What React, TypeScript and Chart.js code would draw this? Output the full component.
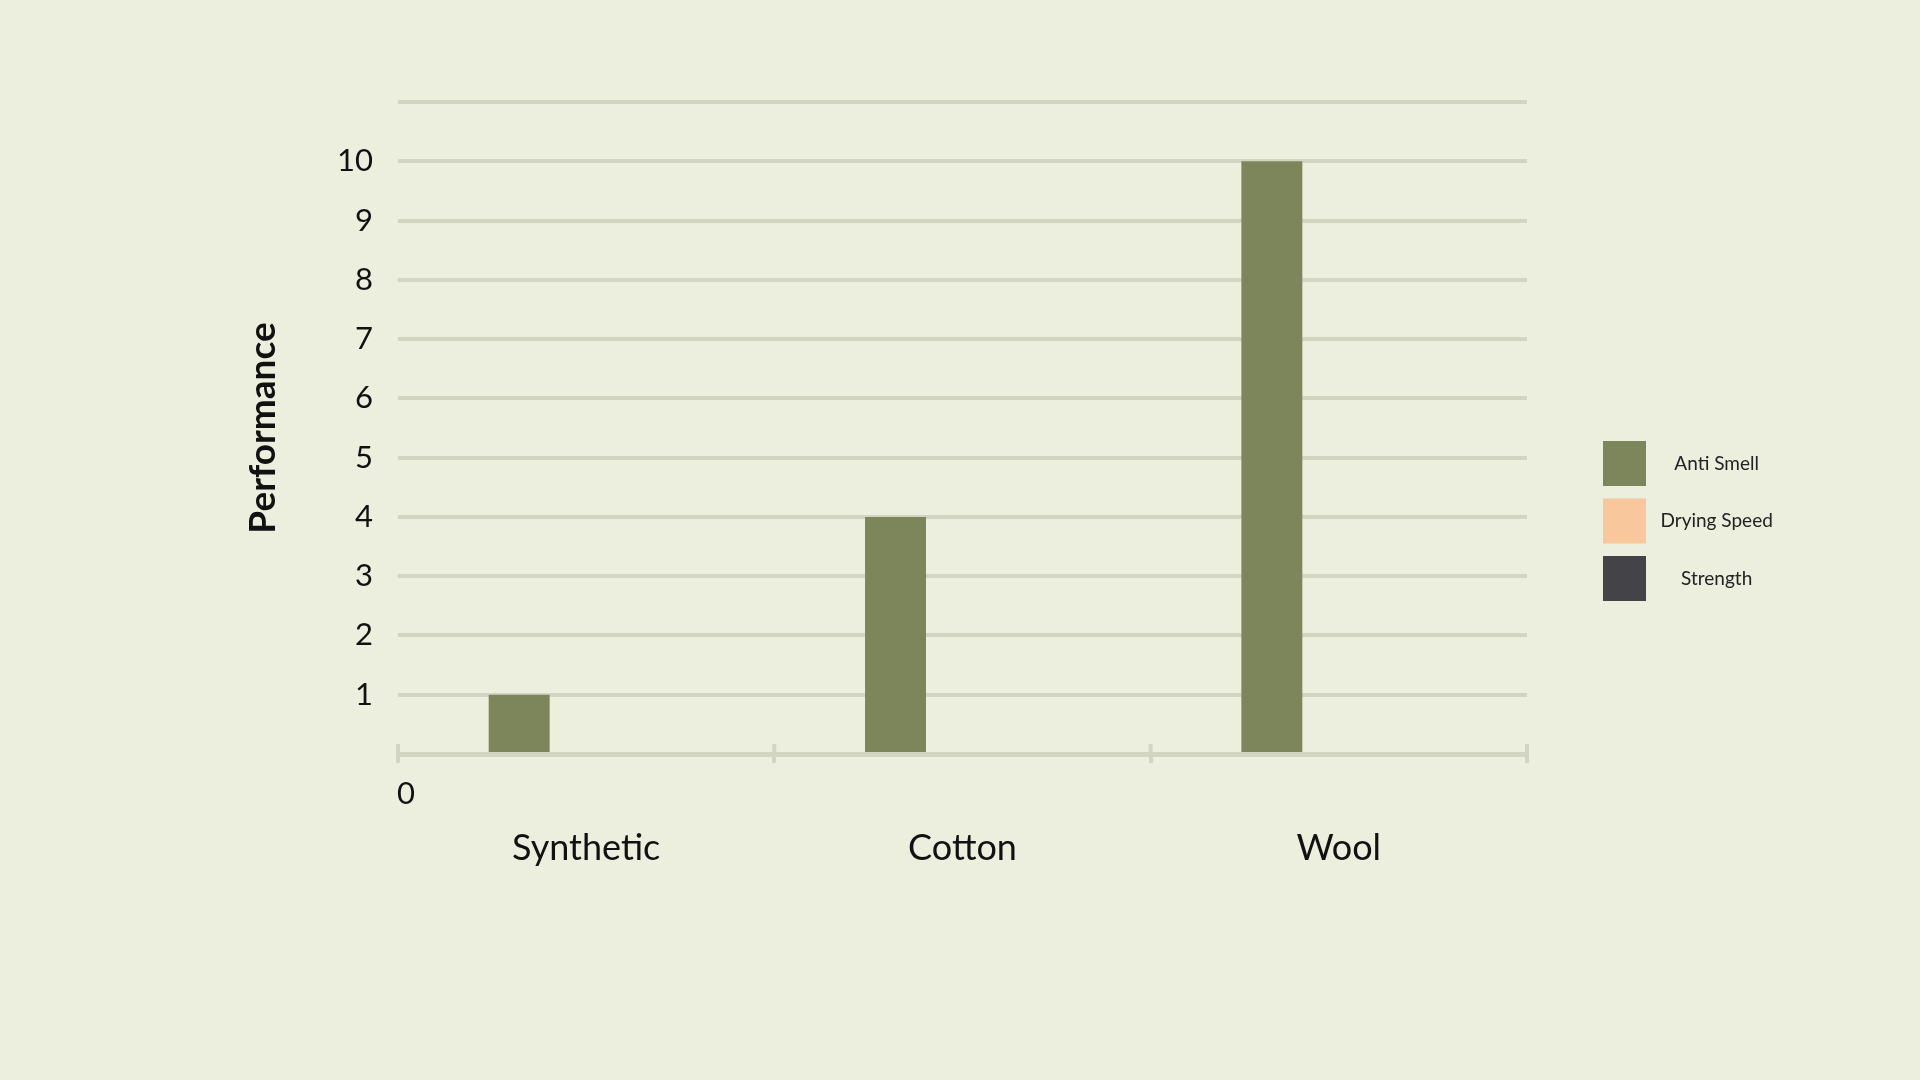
import React, { useEffect, useRef } from 'react';
import { Chart, registerables } from 'chart.js';

Chart.register(...registerables);

// ---- data ----
const categories = ['Synthetic', 'Cotton', 'Wool'];
const seriesNames = ['Anti Smell', 'Drying Speed', 'Strength'];
const antiSmell = [1, 4, 10];
const dryingSpeed = [0, 0, 0];
const strength = [0, 0, 0];
const yTickLabels = [1, 2, 3, 4, 5, 6, 7, 8, 9, 10];
const yMax = 11;
const yTitle = 'Performance';
const zeroLabel = '0';

// ---- styles ----
const BG = '#ECEFDE';
const GRID = '#D2D5C2';
const TEXT = '#111111';
const seriesColors = ['#7D865A', '#F8C79B', '#444347'];
const FONT = 'Lato';

const W = 1920;
const H = 1080;
const AREA_RIGHT = 1527;
const GAP_RIGHT = 63.5;
const LEGEND_PAD = 12.5;
const BOX_W = 43;
const BOX_H = 45;
const LEGEND_FONT = 19;

const axisExtras = {
  id: 'axisExtras',
  afterDraw(chart: any) {
    const { ctx, chartArea, scales } = chart;
    const xs = scales.x;
    const ys = scales.y;
    const y0 = ys.getPixelForValue(0);
    ctx.save();
    // upward part of category boundary tick marks
    ctx.strokeStyle = GRID;
    ctx.lineWidth = 4;
    const n = xs.ticks.length;
    for (let i = 0; i <= n; i++) {
      const px = xs.left + (xs.width * i) / n;
      ctx.beginPath();
      ctx.moveTo(px, y0);
      ctx.lineTo(px, y0 - 10);
      ctx.stroke();
    }
    // zero label under the axis
    ctx.fillStyle = TEXT;
    ctx.font = `31px ${FONT}`;
    ctx.textAlign = 'left';
    ctx.textBaseline = 'middle';
    ctx.fillText(zeroLabel, chartArea.left - 1, y0 + 40);
    ctx.restore();
  },
};

export default function App() {
  const ref = useRef<HTMLCanvasElement>(null);

  useEffect(() => {
    document.body.style.margin = '0';
    document.body.style.background = BG;
    const canvas = ref.current;
    if (!canvas) return;

    const m = document.createElement('canvas').getContext('2d')!;
    m.font = `${LEGEND_FONT}px ${FONT}`;
    const tw = Math.max(...seriesNames.map((s) => m.measureText(s).width));
    const legendWidth = LEGEND_PAD + BOX_W + LEGEND_FONT / 2 + tw + 10;
    const padRight = W - AREA_RIGHT - GAP_RIGHT - legendWidth;

    const values = [antiSmell, dryingSpeed, strength];

    const chart = new Chart(canvas, {
      type: 'bar',
      data: {
        labels: categories,
        datasets: seriesNames.map((name, i) => ({
          label: name,
          data: values[i],
          backgroundColor: seriesColors[i],
          borderWidth: 0,
          categoryPercentage: 0.534,
          barPercentage: 0.91,
          yAxisID: 'y',
        })),
      },
      options: {
        animation: false,
        responsive: true,
        maintainAspectRatio: false,
        layout: { padding: { left: 237, top: 102, bottom: 140, right: padRight } },
        plugins: {
          tooltip: { enabled: false },
          legend: {
            position: 'right',
            align: 'center',
            labels: {
              boxWidth: BOX_W,
              boxHeight: BOX_H,
              padding: LEGEND_PAD,
              color: '#222222',
              textAlign: 'center',
              font: { family: FONT, size: LEGEND_FONT },
            },
          },
        },
        scales: {
          x: {
            offset: true,
            grid: {
              display: true,
              drawOnChartArea: false,
              drawTicks: true,
              tickLength: 9,
              color: GRID,
              lineWidth: 4,
              offset: true,
            },
            border: { display: true, color: GRID, width: 5 },
            ticks: {
              color: TEXT,
              padding: 64,
              font: { family: FONT, size: 36 },
            },
            afterFit(s: any) {
              s.height = 186;
            },
          },
          y: {
            min: 0,
            max: yMax,
            position: 'left',
            grid: { color: GRID, lineWidth: 4, drawTicks: false },
            border: { display: false },
            ticks: {
              stepSize: 1,
              padding: 25,
              color: TEXT,
              font: { family: FONT, size: 31 },
              callback: (v: any) => (yTickLabels.includes(Number(v)) ? String(v) : ''),
            },
            title: {
              display: true,
              text: yTitle,
              color: TEXT,
              font: { family: FONT, size: 37, weight: 'bold' },
              padding: { top: 4, bottom: 4 },
            },
            afterFit(s: any) {
              s.width = 161;
            },
          },
          y2: {
            type: 'linear',
            position: 'right',
            display: true,
            grid: { display: false },
            border: { display: false },
            ticks: { display: false },
            afterFit(s: any) {
              s.width = GAP_RIGHT;
            },
          },
        },
      },
      plugins: [axisExtras],
    } as any);

    return () => chart.destroy();
  }, []);

  return (
    <div style={{ position: 'relative', width: `${W}px`, height: `${H}px`, background: BG }}>
      <canvas ref={ref} />
    </div>
  );
}
